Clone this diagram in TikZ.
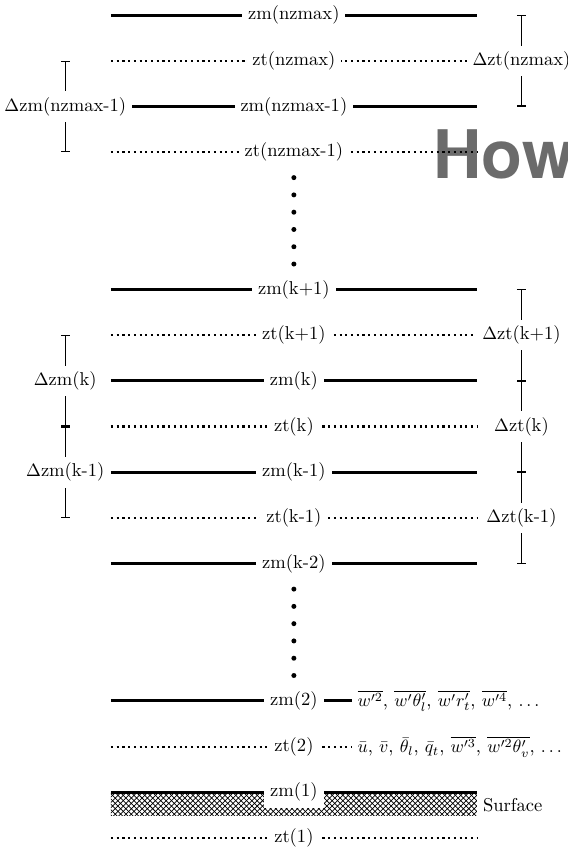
\documentclass[tikz,border=0pt]{standalone}
\usepackage{amsmath}
\usepackage{fontspec}
\newfontfamily\markfont{TeX Gyre Heros}
\usetikzlibrary{arrows.meta}
\usetikzlibrary{patterns}

\tikzset{
    zmline/.style={line width=1.6pt},
    ztline/.style={very thick, dotted},
    lvl/.style={fill=white},
    dzbar/.style={semithick, {Bar[width=5pt]}-{Bar[width=5pt]}},
}

\begin{document}
\begin{tikzpicture}[y=0.9cm, font=\fontsize{10.4pt}{12pt}\selectfont]
    
    \useasboundingbox (-2.185, 0.33) rectangle (8.996, -18.24);
    
    % level ends and bar ends
    \foreach \i in {0,...,18} {
        \coordinate (a\i) at (0, -\i);
        \coordinate (b\i) at (7.2, -\i);
        \coordinate (l\i) at (-0.9, -\i);
        \coordinate (r\i) at (8.08, -\i);
    }
    
    \begin{scope}
        \clip (-2.185, 0.33) rectangle (8.996, -18.24);
        \node [anchor=base west, inner sep=0pt, text=black!58] (how) at (6.34, -3.567)
            {\markfont\bfseries\fontsize{37.5}{40}\selectfont How};
    \end{scope}
    
    \draw [zmline] (a0) -- node [lvl] (zmtop) {zm(nzmax)} (b0);
    \draw [ztline] (a1) -- node [lvl] (zttop) {zt(nzmax)} (b1);
    \draw [zmline] (a2) -- node [lvl] (zmtopm) {zm(nzmax-1)} (b2);
    \draw [ztline] (a3) -- node [lvl] (zttopm) {zt(nzmax-1)} (b3);
    
    \foreach \d in {3.555, 3.933, 4.311, 4.689, 5.067, 5.445}
        \fill (3.6, -\d) circle (1.4pt);
    
    \draw [zmline] (a6) -- node [lvl] (zmkp) {zm(k+1)} (b6);
    \draw [ztline] (a7) -- node [lvl] (ztkp) {zt(k+1)} (b7);
    \draw [zmline] (a8) -- node [lvl] (zmk) {zm(k)} (b8);
    \draw [ztline] (a9) -- node [lvl] (ztk) {zt(k)} (b9);
    \draw [zmline] (a10) -- node [lvl] (zmkm) {zm(k-1)} (b10);
    \draw [ztline] (a11) -- node [lvl] (ztkm) {zt(k-1)} (b11);
    \draw [zmline] (a12) -- node [lvl] (zmkmm) {zm(k-2)} (b12);
    
    \foreach \d in {12.555, 12.933, 13.311, 13.689, 14.067, 14.445}
        \fill (3.6, -\d) circle (1.4pt);
    
    \draw [zmline] (a15) -- node [lvl] (zmtwo) {zm(2)} (b15);
    \node [lvl, anchor=west] (mvars) at (4.73, -15)
        {$\overline{w'^2}$, $\overline{w'\theta'_l}$, $\overline{w'r'_t}$, $\overline{w'^4}$, $\ldots$};
    \draw [ztline] (a16) -- node [lvl] (zttwo) {zt(2)} (b16);
    \node [lvl, anchor=west] (tvars) at (4.73, -16)
        {$\bar{u}$, $\bar{v}$, $\bar{\theta}_l$, $\bar{q}_t$, $\overline{w'^3}$, $\overline{w'^2\theta'_v}$, $\ldots$};
    
    % surface
    \fill [pattern=crosshatch] (a17) rectangle (7.2, -17.5);
    \draw [zmline] (a17) -- node [lvl] (zmone) {zm(1)} (b17);
    \node [right] (surf) at (7.2, -17.27) {Surface};
    \draw [ztline] (a18) -- node [lvl] (ztone) {zt(1)} (b18);
    
    % layer thicknesses
    \draw [dzbar] (r0) -- node [lvl] (dzttop) {$\Delta$zt(nzmax)} (r2);
    \draw [dzbar] (l1) -- node [lvl] (dzmtop) {$\Delta$zm(nzmax-1)} (l3);
    
    \draw [dzbar] (r6) -- node [lvl] (dztkp) {$\Delta$zt(k+1)} (r8);
    \draw [dzbar] (r8) -- node [lvl] (dztk) {$\Delta$zt(k)} (r10);
    \draw [dzbar] (r10) -- node [lvl] (dztkm) {$\Delta$zt(k-1)} (r12);
    
    \draw [dzbar] (l7) -- node [lvl] (dzmk) {$\Delta$zm(k)} (l9);
    \draw [dzbar] (l9) -- node [lvl] (dzmkm) {$\Delta$zm(k-1)} (l11);
    
\end{tikzpicture}
\end{document}
